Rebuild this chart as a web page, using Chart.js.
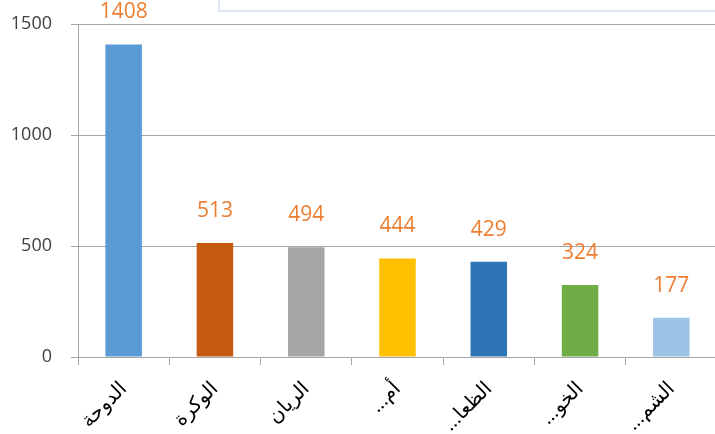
<!DOCTYPE html>
<html lang="ar">
<head>
  <meta charset="UTF-8">
  <title>Bar chart</title>
  <style>
    body {
      margin: 0;
      background: #fff;
      overflow: hidden;
    }
    .wrap {
      position: relative;
      width: 720px;
      height: 434px;
    }
    .title-box {
      position: absolute;
      left: 218px;
      top: -12px;
      width: 520px;
      height: 20px;
      border: 2px solid #dce6f4;
    }
  </style>
  <script src="https://cdn.jsdelivr.net/npm/chart.js"></script>
</head>
<body>
  <div class="wrap">
    <canvas id="barChart" width="720" height="434" dir="rtl"></canvas>
    <div class="title-box"></div>
  </div>

  <script>
    const categories = ['الدوحة', 'الوكرة', 'الريان', 'أم...', 'الظعا...', 'الخو...', 'الشم...'];
    const values = [1408, 513, 494, 444, 429, 324, 177];
    const barColors = ['#5b9bd5', '#c55a11', '#a5a5a5', '#ffc000', '#2e75b6', '#70ad47', '#9dc3e6'];
    const yTicks = [0, 500, 1000, 1500];

    const fontFamily = '"Segoe UI", "Open Sans", "DejaVu Sans", sans-serif';

    // value labels above each bar
    const valueLabels = {
      id: 'valueLabels',
      afterDatasetsDraw(chart) {
        const ctx = chart.ctx;
        const meta = chart.getDatasetMeta(0);
        ctx.save();
        ctx.font = '21px ' + fontFamily;
        ctx.fillStyle = '#ed7d31';
        ctx.textAlign = 'center';
        ctx.textBaseline = 'middle';
        meta.data.forEach((bar, i) => {
          ctx.fillText(String(values[i]), bar.x, bar.y - 32);
        });
        ctx.restore();
      }
    };

    const ctx = document.getElementById('barChart').getContext('2d');
    const barChart = new Chart(ctx, {
      type: 'bar',
      data: {
        labels: categories,
        datasets: [{
          data: values,
          backgroundColor: barColors,
          categoryPercentage: 1,
          barPercentage: 0.4
        }]
      },
      options: {
        responsive: false,
        animation: false,
        layout: { padding: { top: 24, right: 3, left: 0, bottom: 0 } },
        plugins: {
          legend: { display: false },
          tooltip: { enabled: false }
        },
        scales: {
          x: {
            grid: { offset: true, drawOnChartArea: false, tickLength: 8, color: '#a6a6a6' },
            border: { color: '#a6a6a6' },
            ticks: {
              autoSkip: false,
              minRotation: 45,
              maxRotation: 45,
              padding: 12,
              color: '#000',
              font: { size: 20, family: fontFamily }
            },
            afterFit: (scale) => { scale.height = 77; }
          },
          y: {
            min: 0,
            max: 1500,
            afterBuildTicks: (scale) => { scale.ticks = yTicks.map(v => ({ value: v })); },
            grid: { color: '#a6a6a6', tickLength: 7 },
            border: { color: '#a6a6a6' },
            ticks: {
              padding: 19,
              color: '#404040',
              font: { size: 18, family: fontFamily },
              callback: (value) => String(value)
            },
            afterFit: (scale) => {
              scale.width = 78;
              scale.paddingTop = 0;
              scale.paddingBottom = 0;
            }
          }
        }
      },
      plugins: [valueLabels]
    });
  </script>
</body>
</html>
